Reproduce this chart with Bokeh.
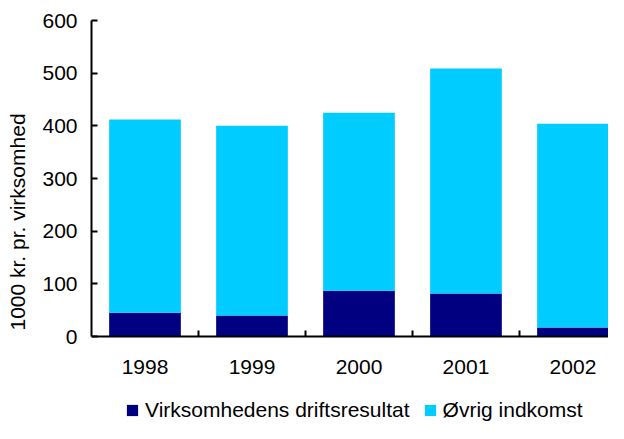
from bokeh.plotting import figure
from bokeh.models import Range1d, FixedTicker, Legend, LegendItem, ColumnDataSource
from bokeh.embed import file_html
from bokeh.resources import INLINE

years = ["1998", "1999", "2000", "2001", "2002"]
drift = [45, 40, 87, 82, 17]
total = [412, 400, 425, 509, 404]
ovrig = [t - d for t, d in zip(total, drift)]
series_names = ["Virksomhedens driftsresultat", "Øvrig indkomst"]
colors = ["#000080", "#00CCFF"]
y_ticks = [0, 100, 200, 300, 400, 500, 600]

FONT = "Liberation Sans"
FS = "21px"

xs = [i + 0.5 for i in range(len(years))]
src = ColumnDataSource(dict(x=xs, drift=drift, ovrig=ovrig))

# frame runs from the top of the axis down to the bottom of the canvas,
# so the legend can sit inside the frame; the x axis is fixed at y=0.
p = figure(width=608, height=423, output_backend="svg", toolbar_location=None,
           x_range=Range1d(0, 4.832), y_range=Range1d(-165, 600),
           min_border_left=91, min_border_right=0, min_border_top=20, min_border_bottom=0)
p.outline_line_color = None
p.xgrid.visible = False
p.ygrid.visible = False

r = p.vbar_stack(["drift", "ovrig"], x="x", width=0.67, source=src, color=colors, line_color=None)

# x axis
xa = p.xaxis[0]
xa.fixed_location = 0
xa.ticker = FixedTicker(ticks=xs, minor_ticks=[i for i in range(1, len(years))])
xa.major_label_overrides = {x: y for x, y in zip(xs, years)}
xa.major_tick_line_color = None
xa.minor_tick_in = 6
xa.minor_tick_out = 0
xa.minor_tick_line_color = "black"
xa.minor_tick_line_width = 2
xa.axis_line_width = 2
xa.axis_line_color = "black"
xa.major_label_text_font = FONT
xa.major_label_text_font_size = FS
xa.major_label_text_color = "black"
xa.major_label_standoff = 17

ya = p.yaxis[0]
ya.bounds = (0, 600)
ya.ticker = FixedTicker(ticks=y_ticks, minor_ticks=[])
ya.major_tick_in = 6
ya.major_tick_out = 0
ya.major_tick_line_width = 2
ya.major_tick_line_color = "black"
ya.axis_line_width = 2
ya.axis_line_color = "black"
ya.minor_tick_line_color = None
ya.major_label_text_font = FONT
ya.major_label_text_font_size = FS
ya.major_label_text_color = "black"
ya.major_label_standoff = 14
ya.axis_label = "1000 kr. pr. virksomhed"
ya.axis_label_text_font = FONT
ya.axis_label_text_font_size = FS
ya.axis_label_text_font_style = "normal"
ya.axis_label_text_color = "black"
ya.axis_label_standoff = 10

legend = Legend(items=[LegendItem(label=n, renderers=[rr]) for n, rr in zip(series_names, r)],
                location=(34, 1), orientation="horizontal",
                glyph_width=14, glyph_height=14, label_standoff=6, spacing=13,
                padding=0, margin=0, border_line_color=None, background_fill_alpha=0,
                label_text_font=FONT, label_text_font_size=FS, label_text_color="black")
p.add_layout(legend, "center")

open("out.html", "w").write(file_html(p, INLINE))
